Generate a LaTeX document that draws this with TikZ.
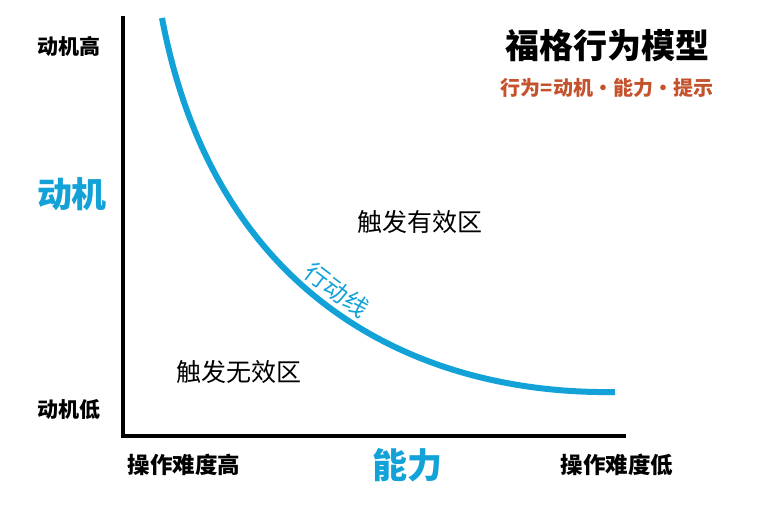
\documentclass[tikz,border=0pt]{standalone}
\usepackage{fontspec}
\setmainfont{Noto Sans CJK SC}
\usepackage{tikz}

\definecolor{fbmblue}{HTML}{12A2D8}
\definecolor{fbmred}{HTML}{C4522C}

\begin{document}
\begin{tikzpicture}[x=1pt,y=-1pt, every node/.style={inner sep=0pt, outer sep=0pt},
  axislabel/.style={font=\fontsize{21}{21}\selectfont\bfseries},
  bigblue/.style={text=fbmblue, font=\fontsize{35}{35}\selectfont\bfseries},
  zone/.style={font=\fontsize{25}{25}\selectfont}]
\useasboundingbox (0,0) rectangle (772,508);

\coordinate (top) at (123,16);
\coordinate (origin) at (123,436);
\coordinate (right) at (626,436);
\draw[line width=4pt] (top) -- (origin) -- (right);

\coordinate (start) at (162,18);
\coordinate (end) at (615,392);
\draw[fbmblue, line width=6pt] (start) .. controls (215,300) and (420,395) .. (end);

\node[axislabel] (mhigh) at (69,46) {动机高};
\node[bigblue] (motive) at (72,194) {动机};
\node[axislabel] (mlow) at (69,410) {动机低};

\node[font=\fontsize{22.5}{22.5}\selectfont\bfseries] (hard) at (184,465) {操作难度高};
\node[bigblue] (ability) at (407,465) {能力};
\node[font=\fontsize{22.5}{22.5}\selectfont\bfseries] (easy) at (617,465) {操作难度低};

\node[font=\fontsize{34}{34}\selectfont\bfseries] (title) at (607,46) {福格行为模型};
\node[text=fbmred, font=\fontsize{20}{20}\selectfont\bfseries] (formula) at (607,88) {行为=动机·能力·提示};

\node[zone] (valid) at (420,222) {触发有效区};
\node[zone] (invalid) at (239,372) {触发无效区};

\node[text=fbmblue, rotate=-37, font=\fontsize{24}{24}\selectfont] (line) at (337,290) {行动线};
\end{tikzpicture}
\end{document}
